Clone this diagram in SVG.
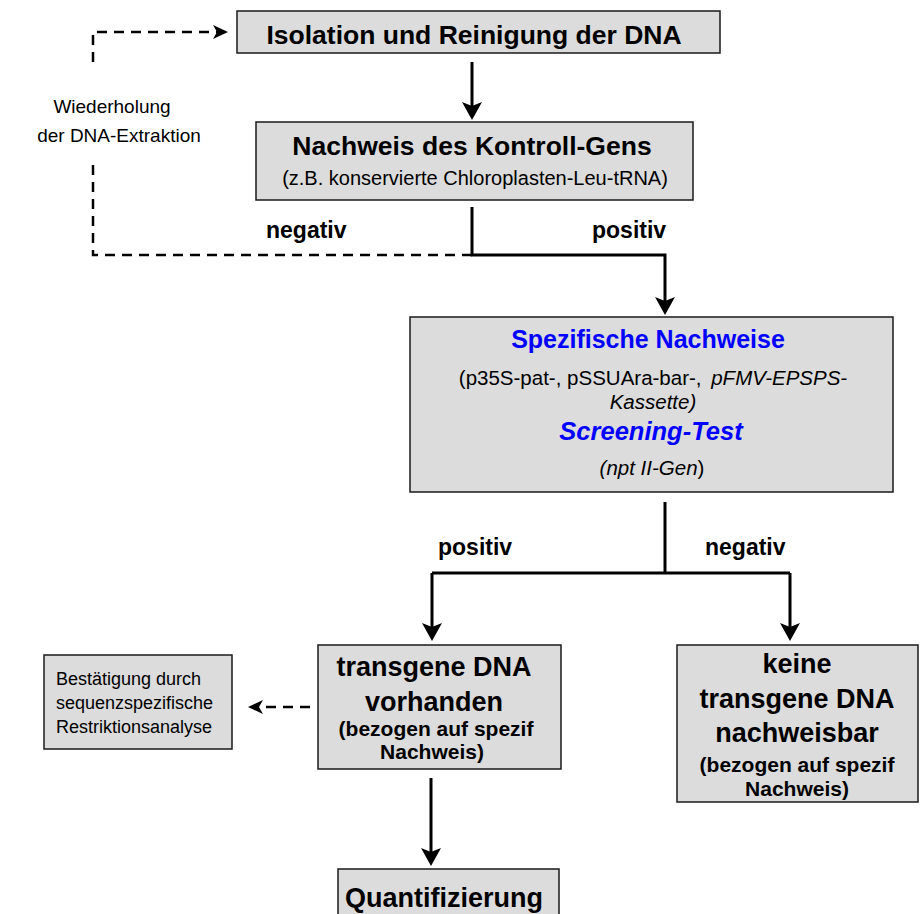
<svg xmlns="http://www.w3.org/2000/svg" width="921" height="914" viewBox="0 0 921 914">
<style>
.box{fill:#dcdcdc;stroke:#1a1a1a;stroke-width:1.5}
text{font-family:"Liberation Sans",Arial,sans-serif;fill:#000}
.b{font-weight:bold}
.c{text-anchor:middle}
.blue{fill:#0000ff}
.i{font-style:italic}
.sol{fill:none;stroke:#000;stroke-width:3}
.dsh{fill:none;stroke:#000;stroke-width:2.5;stroke-dasharray:10 7}
</style>
<defs>
<marker id="ah" markerUnits="userSpaceOnUse" viewBox="0 0 18 20" markerWidth="18" markerHeight="20" refX="12" refY="10" orient="auto">
<path d="M0,0 L18,10 L0,20 L4,10 z" fill="#000"/>
</marker>
<marker id="ahs" markerUnits="userSpaceOnUse" viewBox="0 0 15 14" markerWidth="15" markerHeight="14" refX="10" refY="7" orient="auto">
<path d="M0,0 L15,7 L0,14 L4,7 z" fill="#000"/>
</marker>
</defs>

<g id="connectors">
<path class="sol" d="M472,62 V114" marker-end="url(#ah)"/>
<path class="sol" d="M472,207 V255 H665 V309" marker-end="url(#ah)"/>
<path class="dsh" d="M472,255 H93 V162"/>
<path class="dsh" d="M93,62 V32 H223" marker-end="url(#ahs)"/>
<path class="sol" d="M665,502 V573"/>
<path class="sol" d="M432,573 H790"/>
<path class="sol" d="M432,573 V635" marker-end="url(#ah)"/>
<path class="sol" d="M790,573 V635" marker-end="url(#ah)"/>
<path class="dsh" d="M310,707 H253" marker-end="url(#ahs)"/>
<path class="sol" d="M431,778 V860" marker-end="url(#ah)"/>
</g>

<g id="labels">
<text x="112" y="113" class="c" font-size="19">Wiederholung</text>
<text x="119" y="142" class="c" font-size="19">der DNA-Extraktion</text>
<text x="266" y="238" class="b" font-size="23">negativ</text>
<text x="592" y="238" class="b" font-size="23">positiv</text>
<text x="438" y="555" class="b" font-size="23">positiv</text>
<text x="705" y="555" class="b" font-size="23">negativ</text>
</g>

<g id="n1">
<rect class="box" x="237" y="11" width="483" height="42"/>
<text x="474" y="44" class="b c" font-size="26.5">Isolation und Reinigung der DNA</text>
</g>

<g id="n2">
<rect class="box" x="256" y="122" width="437" height="78"/>
<text x="472" y="155" class="b c" font-size="26.5">Nachweis des Kontroll-Gens</text>
<text x="475" y="185" class="c" font-size="20">(z.B. konservierte Chloroplasten-Leu-tRNA)</text>
</g>

<g id="n3">
<rect class="box" x="410" y="317" width="483" height="175"/>
<text x="648" y="348" class="b c blue" font-size="25">Spezifische Nachweise</text>
<text x="653" y="385" class="c" font-size="20.5">(p35S-pat-, pSSUAra-bar-, <tspan class="i" dx="4">pFMV-EPSPS-</tspan></text>
<text x="653" y="409" class="c i" font-size="20.5">Kassette)</text>
<text x="651" y="440" class="b c i blue" font-size="25.5">Screening-Test</text>
<text x="652" y="475" class="c" font-size="20.5"><tspan class="i">(npt II-Gen</tspan>)</text>
</g>

<g id="n4">
<rect class="box" x="318" y="645" width="243" height="124"/>
<text x="434" y="676" class="b c" font-size="27">transgene DNA</text>
<text x="434" y="711" class="b c" font-size="27">vorhanden</text>
<text x="436" y="736" class="b c" font-size="21">(bezogen auf spezif</text>
<text x="432" y="759" class="b c" font-size="21">Nachweis)</text>
</g>

<g id="n5">
<rect class="box" x="677" y="645" width="241" height="157"/>
<text x="797" y="673" class="b c" font-size="27">keine</text>
<text x="797" y="708" class="b c" font-size="27">transgene DNA</text>
<text x="797" y="742" class="b c" font-size="27">nachweisbar</text>
<text x="797" y="772" class="b c" font-size="21">(bezogen auf spezif</text>
<text x="797" y="796" class="b c" font-size="21">Nachweis)</text>
</g>

<g id="n6">
<rect class="box" x="44" y="655" width="188" height="94"/>
<text x="56" y="685" font-size="18">Bestätigung durch</text>
<text x="56" y="709" font-size="18">sequenzspezifische</text>
<text x="56" y="733" font-size="18">Restriktionsanalyse</text>
</g>

<g id="n7">
<rect class="box" x="338" y="869" width="221" height="60"/>
<text x="444" y="907" class="b c" font-size="27">Quantifizierung</text>
</g>
</svg>
